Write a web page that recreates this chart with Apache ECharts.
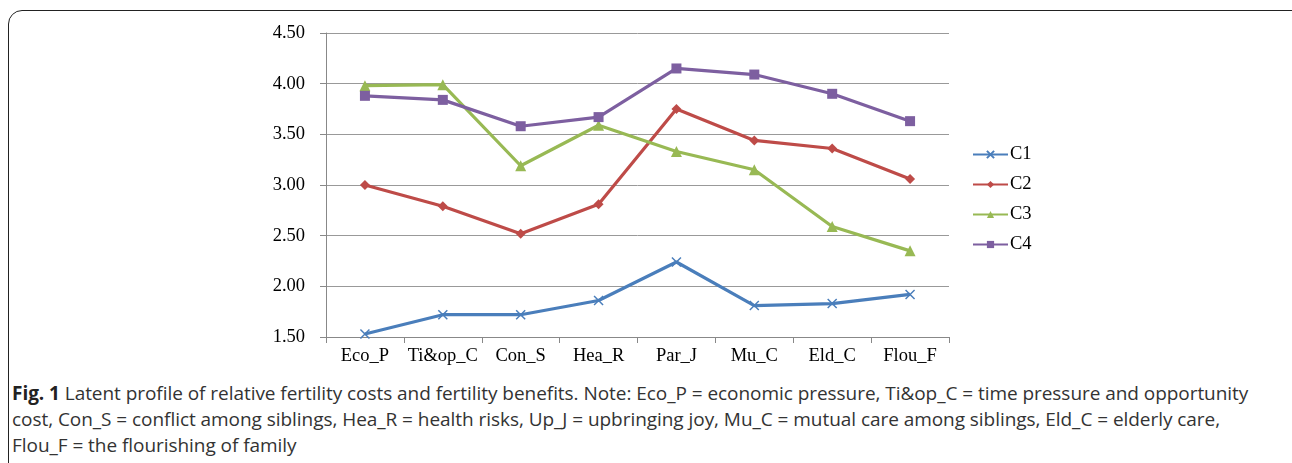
<!DOCTYPE html>
<html>
<head>
<meta charset="utf-8">
<script src="https://cdn.jsdelivr.net/npm/echarts@6/dist/echarts.min.js"></script>
<style>
  html, body { margin: 0; padding: 0; background: #fff; }
  #wrap { position: relative; width: 1292px; height: 463px; overflow: hidden; }
  #card { position: absolute; left: 8px; top: 10px; width: 1320px; height: 500px;
          border: 1.5px solid #222; border-radius: 14px; box-sizing: border-box; }
  #chart { position: absolute; left: 0; top: 0; width: 1292px; height: 372px; }
  #caption { position: absolute; left: 12px; top: 380px; width: 1280px; white-space: nowrap;
             font-family: 'Open Sans', sans-serif; font-size: 19px; line-height: 26px;
             color: #333; letter-spacing: -0.05px; }
  #caption b { color: #222; }
</style>
</head>
<body>
<div id="wrap">
  <div id="card"></div>
  <div id="chart"></div>
  <div id="caption"><b>Fig. 1</b> Latent profile of relative fertility costs and fertility benefits. Note: Eco_P = economic pressure, Ti&amp;op_C = time pressure and opportunity<br>cost, Con_S = conflict among siblings, Hea_R = health risks, Up_J = upbringing joy, Mu_C = mutual care among siblings, Eld_C = elderly care,<br>Flou_F = the flourishing of family</div>
</div>
<script>
// categories and profile values
const categories = ['Eco_P', 'Ti&op_C', 'Con_S', 'Hea_R', 'Par_J', 'Mu_C', 'Eld_C', 'Flou_F']
const c1 = [1.53, 1.72, 1.72, 1.86, 2.24, 1.81, 1.83, 1.92]
const c2 = [3.00, 2.79, 2.52, 2.81, 3.75, 3.44, 3.36, 3.06]
const c3 = [3.98, 3.99, 3.19, 3.59, 3.33, 3.15, 2.59, 2.35]
const c4 = [3.88, 3.84, 3.58, 3.67, 4.15, 4.09, 3.90, 3.63]
const seriesNames = ['C1', 'C2', 'C3', 'C4']

const serif = 'Liberation Serif, Times New Roman, serif'
const crossPath = 'path://M0,0L10,10M10,0L0,10'

const mk = (name, data, color, symbol, size, extra) => Object.assign({
  name, type: 'line', data,
  symbol, symbolSize: size,
  lineStyle: { color, width: 3.2 },
  itemStyle: { color },
  emphasis: { disabled: true },
  animation: false,
}, extra || {})

const chart = echarts.init(document.getElementById('chart'))
chart.setOption({
  animation: false,
  grid: { left: 326, right: 343, top: 33, bottom: 35, containLabel: false },
  legend: {
    orient: 'vertical', left: 967, top: 140,
    itemWidth: 35, itemHeight: 9, itemGap: 11,
    textStyle: { fontFamily: serif, fontSize: 18.5, color: '#000', padding: [0, 0, 0, -3] },
    data: seriesNames
  },
  xAxis: {
    type: 'category', data: categories,
    axisLine: { lineStyle: { color: '#888', width: 1 } },
    axisTick: { show: true, length: 6, lineStyle: { color: '#888' } },
    axisLabel: { interval: 0, fontFamily: serif, fontSize: 18.5, color: '#000', margin: 10 }
  },
  yAxis: {
    type: 'value', min: 1.5, max: 4.5, interval: 0.5,
    axisLine: { show: true, lineStyle: { color: '#888', width: 1 } },
    axisTick: { show: true, length: 6, lineStyle: { color: '#888' } },
    axisLabel: { fontFamily: serif, fontSize: 18.5, color: '#000', margin: 21, formatter: v => v.toFixed(2) },
    splitLine: { lineStyle: { color: '#999', width: 1 } }
  },
  series: [
    mk('C1', c1, '#4a7ebb', crossPath, 9, { itemStyle: { color: 'transparent', borderColor: '#4a7ebb', borderWidth: 1.5 } }),
    mk('C2', c2, '#be4b48', 'diamond', 10),
    mk('C3', c3, '#98b954', 'triangle', 11),
    mk('C4', c4, '#7d5fa0', 'rect', 10)
  ]
})
</script>
</body>
</html>
